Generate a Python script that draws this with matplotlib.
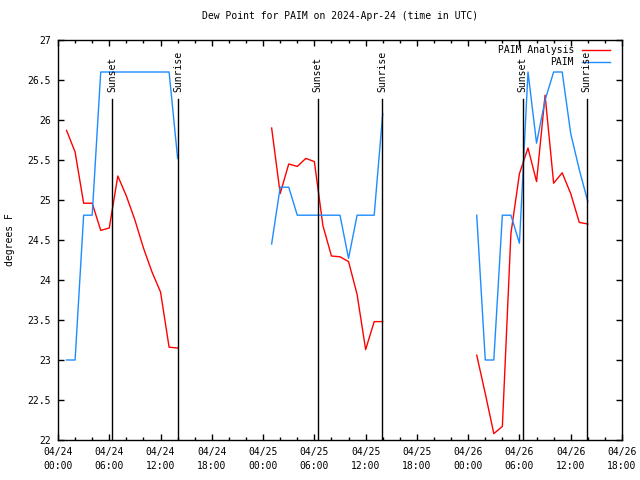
import matplotlib
matplotlib.use("Agg")
import matplotlib.pyplot as plt
import matplotlib.dates as mdates
import numpy as np
import pandas as pd

plt.rcParams['font.family'] = ['DejaVu Sans Mono']
plt.rcParams['font.size'] = 7

# hourly values, three segments with gaps between them
seg_starts = ["2024-04-24 01:00", "2024-04-25 01:00", "2024-04-26 01:00"]

analysis_1 = [25.87, 25.60, 24.96, 24.96, 24.62, 24.65, 25.30, 25.05, 24.75, 24.40, 24.10, 23.85, 23.16, 23.15]
paim_1 = [23.00, 23.00, 24.81, 24.81, 26.60, 26.60, 26.60, 26.60, 26.60, 26.60, 26.60, 26.60, 26.60, 25.52]

analysis_2 = [25.90, 25.08, 25.45, 25.42, 25.52, 25.48, 24.68, 24.30, 24.29, 24.23, 23.82, 23.13, 23.48, 23.48]
paim_2 = [24.45, 25.16, 25.16, 24.81, 24.81, 24.81, 24.81, 24.81, 24.81, 24.27, 24.81, 24.81, 24.81, 26.08]

analysis_3 = [23.06, 22.58, 22.08, 22.17, 24.58, 25.33, 25.65, 25.23, 26.31, 25.21, 25.34, 25.08, 24.72, 24.70]
paim_3 = [24.81, 23.00, 23.00, 24.81, 24.81, 24.46, 26.60, 25.71, 26.25, 26.60, 26.60, 25.83, 25.38, 24.98]

sunsets = ["2024-04-24 06:22", "2024-04-25 06:23", "2024-04-26 06:24"]
sunrises = ["2024-04-24 14:02", "2024-04-25 13:58", "2024-04-26 13:52"]

analysis_segs = [analysis_1, analysis_2, analysis_3]
paim_segs = [paim_1, paim_2, paim_3]

red = "#ff0000"
blue = "#1e8cff"

fig = plt.figure(figsize=(6.4, 4.8), dpi=100)
ax = fig.add_axes([58 / 640, 1 - 440 / 480, 564 / 640, 400 / 480])

for start, a, p in zip(seg_starts, analysis_segs, paim_segs):
    t = pd.date_range(start, periods=len(a), freq="h")
    ax.plot(t, a, color=red, lw=1.0)
    ax.plot(t, p, color=blue, lw=1.0)

for times, label in ((sunsets, "Sunset"), (sunrises, "Sunrise")):
    for s in pd.to_datetime(times):
        ax.plot([s, s], [22, 26.26], color="black", lw=1.0)
        ax.text(s, 26.35, label, rotation=90, ha="center", va="bottom")

ax.set_xlim(pd.Timestamp("2024-04-24 00:00"), pd.Timestamp("2024-04-26 18:00"))
ax.set_ylim(22, 27)
ax.set_yticks(np.arange(22, 27.01, 0.5))
ax.set_yticklabels(["22", "22.5", "23", "23.5", "24", "24.5", "25", "25.5", "26", "26.5", "27"])

ax.xaxis.set_major_locator(mdates.HourLocator(byhour=[0, 6, 12, 18]))
ax.xaxis.set_minor_locator(mdates.HourLocator(byhour=range(0, 24, 2)))
ax.xaxis.set_major_formatter(mdates.DateFormatter("%m/%d\n%H:%M"))

ax.tick_params(which="both", direction="in", top=True, right=True, width=1.0)
ax.tick_params(which="major", length=4, pad=5)
ax.tick_params(which="minor", length=2)
plt.setp(ax.get_xticklabels(), linespacing=1.5)
for sp in ax.spines.values():
    sp.set_linewidth(1.0)

ax.set_title("Dew Point for PAIM on 2024-Apr-24 (time in UTC)", fontsize=7, pad=15)
ax.set_ylabel("degrees F", labelpad=9)

# legend drawn in axes coordinates, gnuplot style
ax.text(0.915, 0.975, "PAIM Analysis", transform=ax.transAxes, ha="right", va="center")
ax.plot([0.929, 0.979], [0.975, 0.975], color=red, lw=1.0, transform=ax.transAxes)
ax.text(0.915, 0.944, "PAIM", transform=ax.transAxes, ha="right", va="center")
ax.plot([0.929, 0.979], [0.944, 0.944], color=blue, lw=1.0, transform=ax.transAxes)

fig.savefig("out.png", dpi=100)
